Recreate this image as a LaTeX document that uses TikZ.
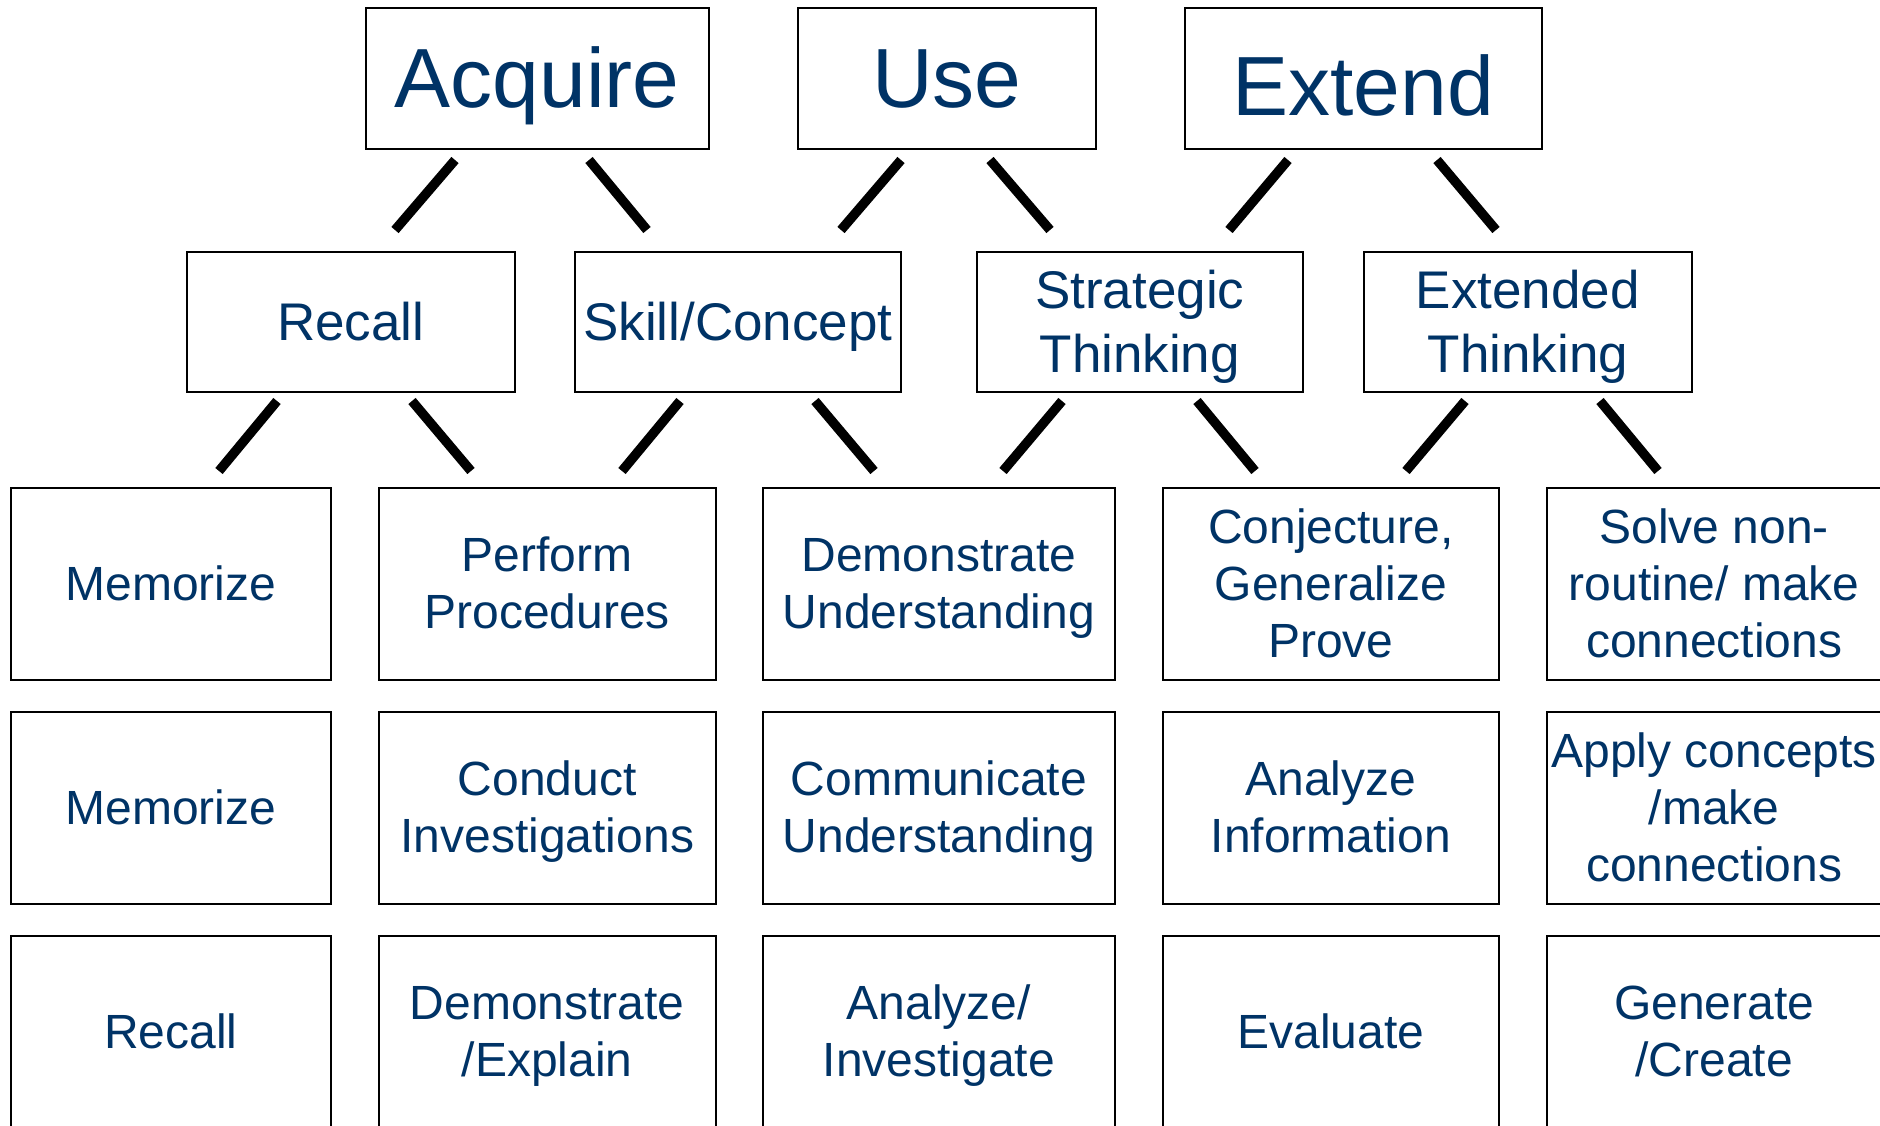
\documentclass[tikz,border=0pt]{standalone}
\usepackage{fontspec}
\setmainfont{Liberation Sans}
\definecolor{txt}{RGB}{0,51,102}
\newcommand{\zs}{\rule[-0.212em]{0pt}{1.117em}}
\begin{document}
\begin{tikzpicture}[x=1pt,y=-1pt,
  box/.style={draw=black, line width=1.6pt, inner sep=0pt, align=center, text=txt, anchor=north west},
  big/.style={box, minimum height=141pt, font=\fontsize{84}{97}\selectfont},
  mid/.style={box, minimum height=140pt, font=\fontsize{53}{64}\selectfont},
  cell/.style={box, minimum height=192pt, font=\fontsize{48}{57}\selectfont},
  link/.style={line width=9.5pt, draw=black}]
\useasboundingbox (0,0) rectangle (1880,1125);
\clip (0,0) rectangle (1880,1125);
\fill[white] (0,0) rectangle (1880,1125);

% top level
\node[big, minimum width=343pt] (acq) at (365,7) {\zs Acquire};
\node[big, minimum width=298pt] (use) at (797,7) {\zs Use};
\node[big, minimum width=357pt] (ext) at (1184,7) {\raisebox{-8pt}[\height][\depth]{\zs Extend}};

% middle level
\node[mid, minimum width=328pt] (rec) at (186,251) {\zs Recall};
\node[mid, minimum width=326pt] (skc) at (574,251) {\zs Skill/Concept};
\node[mid, minimum width=326pt] (str) at (976,251) {\zs Strategic\\Thinking\zs};
\node[mid, minimum width=328pt] (etk) at (1363,251) {\zs Extended\\Thinking\zs};

% grid row 1
\node[cell, minimum width=320pt] (a1) at (10,487) {\zs Memorize};
\node[cell, minimum width=337pt] (a2) at (378,487) {\zs Perform\\Procedures\zs};
\node[cell, minimum width=352pt] (a3) at (762,487) {\zs Demonstrate\\Understanding\zs};
\node[cell, minimum width=336pt] (a4) at (1162,487) {\zs Conjecture,\\Generalize\\Prove\zs};
\node[cell, minimum width=335pt] (a5) at (1546,487) {\zs Solve non-\\routine/ make\\connections\zs};
% grid row 2
\node[cell, minimum width=320pt] (b1) at (10,711) {\zs Memorize};
\node[cell, minimum width=337pt] (b2) at (378,711) {\zs Conduct\\Investigations\zs};
\node[cell, minimum width=352pt] (b3) at (762,711) {\zs Communicate\\Understanding\zs};
\node[cell, minimum width=336pt] (b4) at (1162,711) {\zs Analyze\\Information\zs};
\node[cell, minimum width=335pt] (b5) at (1546,711) {\zs Apply concepts\\/make\\connections\zs};
% grid row 3
\node[cell, minimum width=320pt] (c1) at (10,935) {\zs Recall};
\node[cell, minimum width=337pt] (c2) at (378,935) {\zs Demonstrate\\/Explain\zs};
\node[cell, minimum width=352pt] (c3) at (762,935) {\zs Analyze/\\Investigate\zs};
\node[cell, minimum width=336pt] (c4) at (1162,935) {\zs Evaluate};
\node[cell, minimum width=335pt] (c5) at (1546,935) {\zs Generate\\/Create\zs};

% connector end points, level 1
\coordinate (p1a) at (455,160);  \coordinate (p1b) at (395,230);
\coordinate (p2a) at (589,160);  \coordinate (p2b) at (647,230);
\coordinate (p3a) at (901,160);  \coordinate (p3b) at (841,230);
\coordinate (p4a) at (990,160);  \coordinate (p4b) at (1050,230);
\coordinate (p5a) at (1288,160); \coordinate (p5b) at (1229,230);
\coordinate (p6a) at (1437,160); \coordinate (p6b) at (1496,230);
% level 2
\coordinate (q1a) at (277,401);  \coordinate (q1b) at (219,471);
\coordinate (q2a) at (412,401);  \coordinate (q2b) at (471,471);
\coordinate (q3a) at (680,401);  \coordinate (q3b) at (622,471);
\coordinate (q4a) at (815,401);  \coordinate (q4b) at (874,471);
\coordinate (q5a) at (1062,401); \coordinate (q5b) at (1003,471);
\coordinate (q6a) at (1197,401); \coordinate (q6b) at (1255,471);
\coordinate (q7a) at (1465,401); \coordinate (q7b) at (1406,471);
\coordinate (q8a) at (1600,401); \coordinate (q8b) at (1658,471);

\foreach \n in {p1,p2,p3,p4,p5,p6,q1,q2,q3,q4,q5,q6,q7,q8}
  \draw[link] (\n a) -- (\n b);
\end{tikzpicture}
\end{document}
